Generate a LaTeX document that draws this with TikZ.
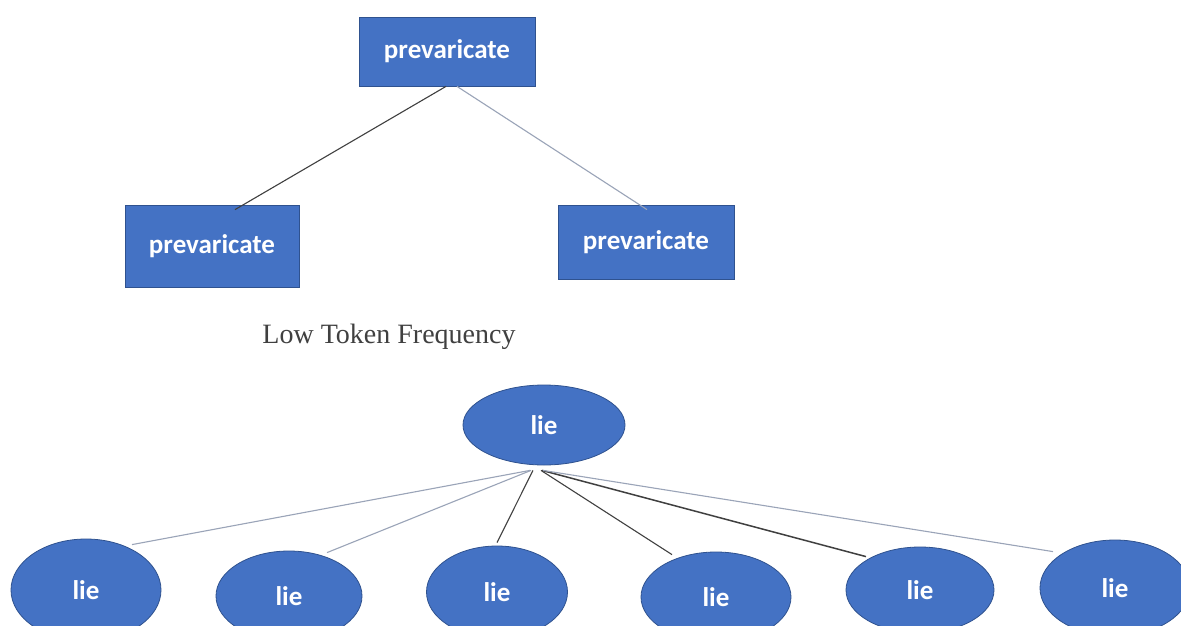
\documentclass[tikz,border=0pt]{standalone}
\usepackage{fontspec}
\setmainfont{Liberation Serif}
\newfontfamily\boxfont{Carlito}
\usetikzlibrary{shapes.geometric,calc}
\definecolor{officeblue}{HTML}{4472C4}
\definecolor{officeedge}{HTML}{2F528F}
\definecolor{darkline}{HTML}{404040}
\definecolor{lightline}{HTML}{9AA4B8}
\begin{document}
\begin{tikzpicture}[x=1pt,y=-1pt,
  wordbox/.style={rectangle,fill=officeblue,draw=officeedge,line width=0.8pt,inner sep=0pt,
    text=white,font=\boxfont\bfseries\fontsize{27}{30}\selectfont},
  wordoval/.style={ellipse,fill=officeblue,draw=officeedge,line width=0.8pt,inner sep=0pt,
    text=white,font=\boxfont\bfseries\fontsize{27}{30}\selectfont},
  dline/.style={draw=darkline,line width=1.1pt},
  lline/.style={draw=lightline,line width=1.1pt}]
\useasboundingbox[fill=white] (0,0) rectangle (1181,626);
% top tree
\node[wordbox,minimum width=176pt,minimum height=69pt] (ptop) at (447,51.5) {prevaricate};
\node[wordbox,minimum width=174pt,minimum height=82pt] (pleft) at (212,246) {prevaricate};
\node[wordbox,minimum width=176pt,minimum height=74pt] (pright) at (646,242) {prevaricate};
\draw[dline] ($(ptop.south)+(-1,0)$) -- ($(pleft.north)+(23,5)$);
\draw[lline] ($(ptop.south)+(10,0)$) -- ($(pright.north)+(1,5)$);
% caption
\node[anchor=base,inner sep=0pt,text=darkline,font=\fontsize{28}{32}\selectfont] (cap) at (389,343) {Low Token Frequency};
% bottom tree
\node[wordoval,minimum width=162pt,minimum height=80pt] (ltop) at (544,425) {lie};
\node[wordoval,minimum width=150pt,minimum height=102pt] (l1) at (86,590) {lie};
\node[wordoval,minimum width=146pt,minimum height=90pt] (l2) at (289,596) {lie};
\node[wordoval,minimum width=141pt,minimum height=92pt] (l3) at (497,592) {lie};
\node[wordoval,minimum width=150pt,minimum height=90pt] (l4) at (716,597) {lie};
\node[wordoval,minimum width=148pt,minimum height=86pt] (l5) at (920,590) {lie};
\node[wordoval,minimum width=150pt,minimum height=96pt] (l6) at (1115,588) {lie};
\draw[lline] ($(ltop.south)+(-14,5)$) -- ($(l1.north)+(46,6)$);
\draw[lline] ($(ltop.south)+(-13,5)$) -- ($(l2.north)+(38,2)$);
\draw[dline] ($(ltop.south)+(-11,5)$) -- ($(l3.north)+(0,-3)$);
\draw[dline] ($(ltop.south)+(-3,5)$) -- ($(l4.north)+(-44,3)$);
\draw[dline,line width=1.5pt] ($(ltop.south)+(-2,5)$) -- ($(l5.north)+(-54,10)$);
\draw[lline] ($(ltop.south)+(-1,5)$) -- ($(l6.north)+(-62,12)$);
\end{tikzpicture}
\end{document}
